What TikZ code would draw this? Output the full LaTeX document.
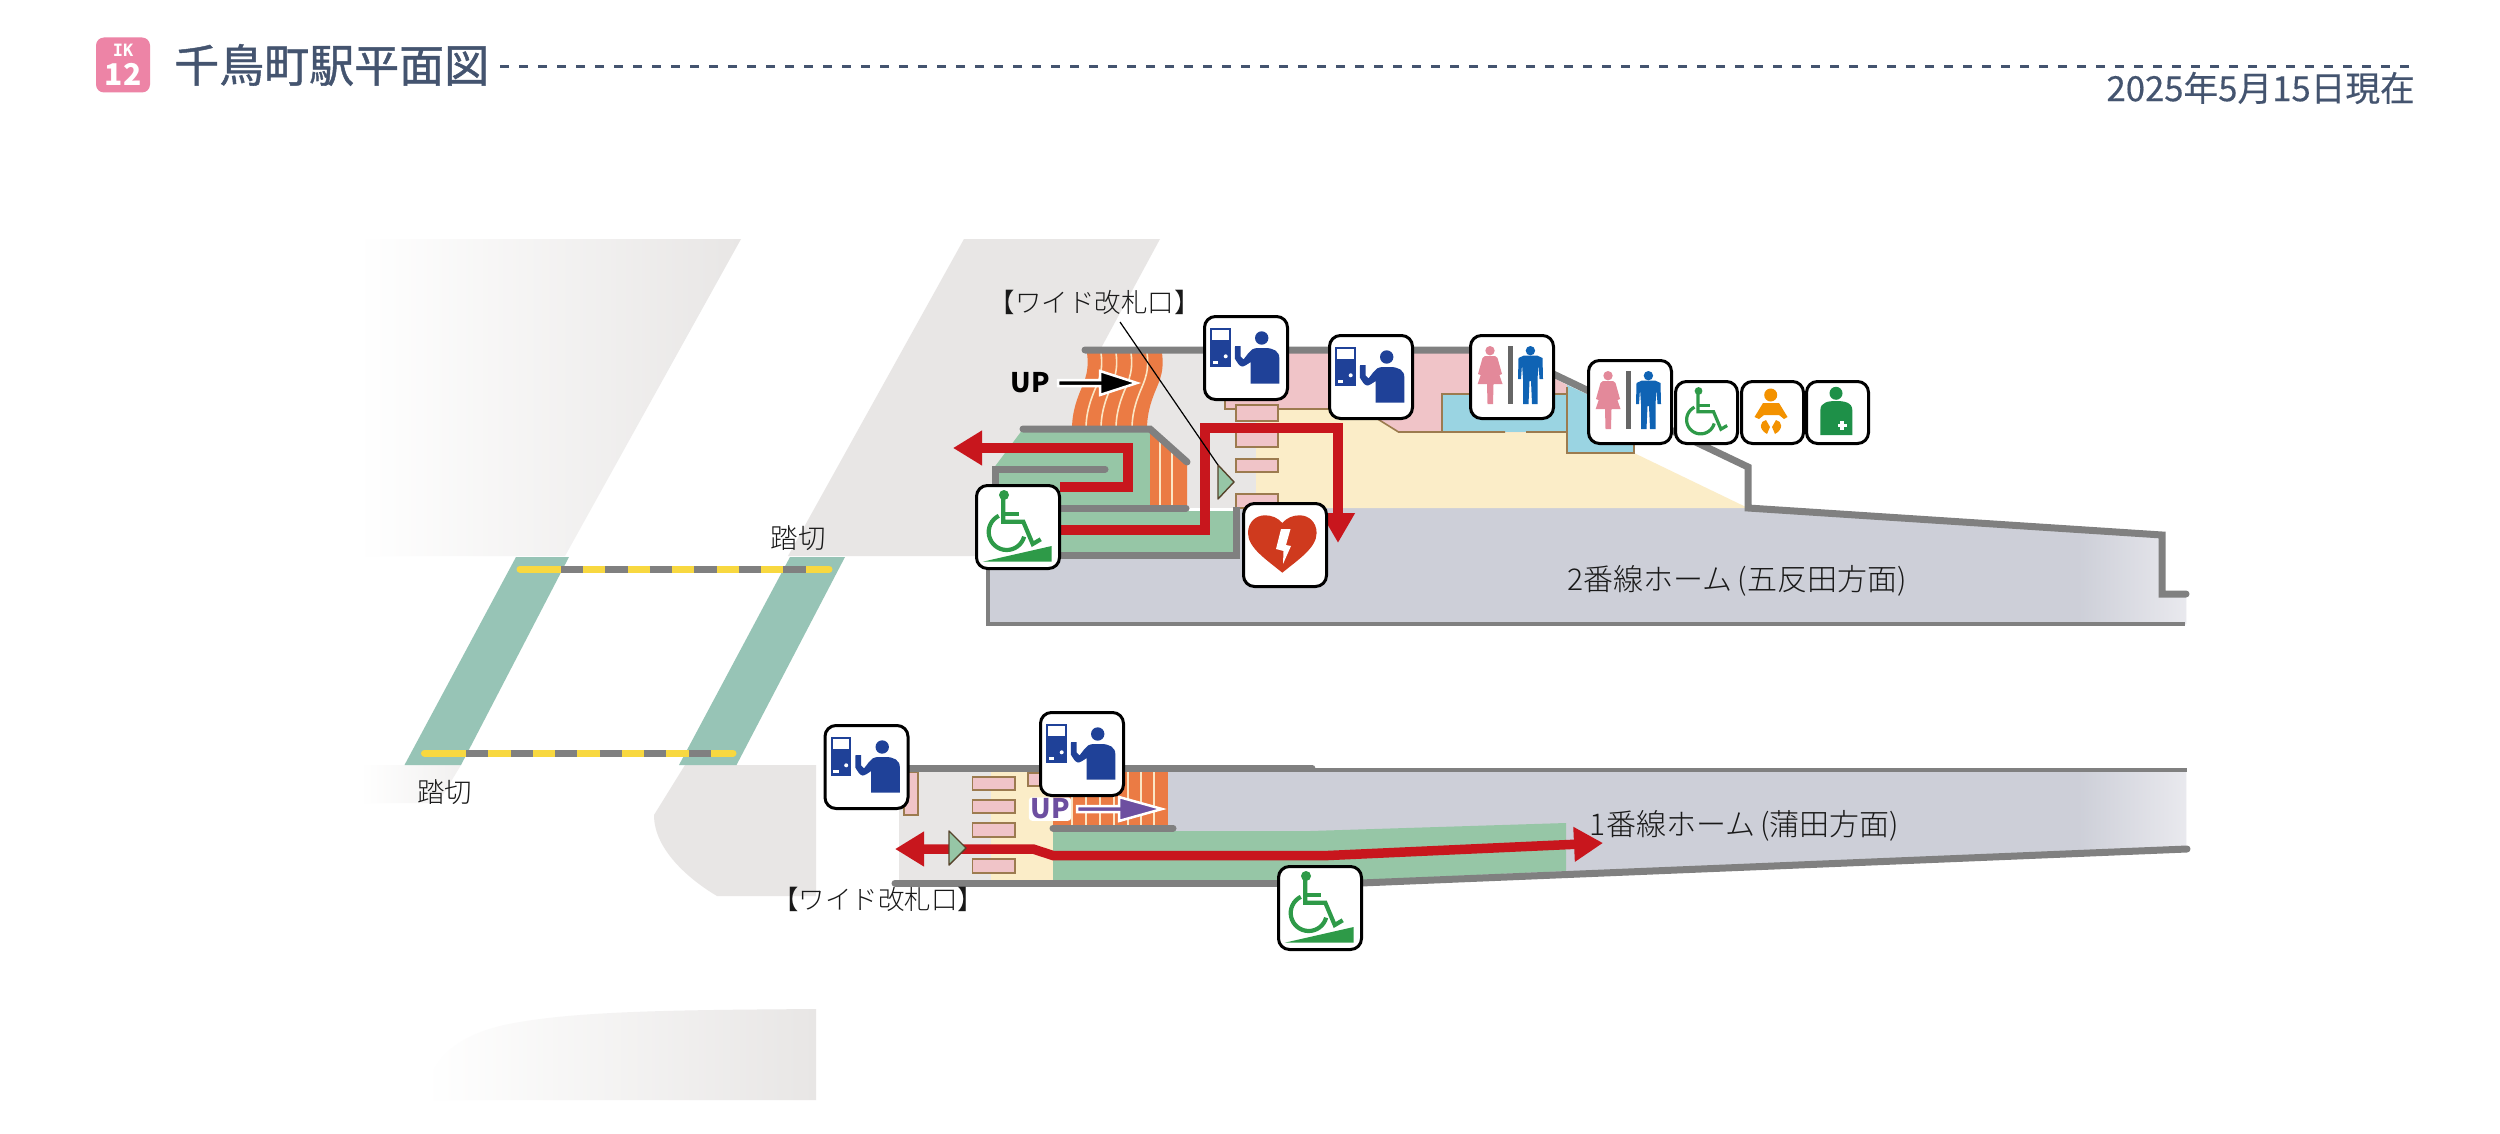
\documentclass[tikz,border=0pt]{standalone}
\usepackage{fontspec}
\setmainfont{Noto Sans CJK JP}
\newfontfamily\lightfont{Noto Sans CJK JP Light}
\newfontfamily\titlefont[FakeBold=1.0]{Noto Sans CJK JP}
\newfontfamily\datefont[FakeBold=0.35]{Noto Sans CJK JP}
\newfontfamily\slabfont{DejaVu Sans Mono}
\usetikzlibrary{arrows.meta}
\newcommand\myfs[1]{\fontsize{#1}{#1}\selectfont}
\definecolor{bggray}{HTML}{E8E6E5}
\definecolor{teal}{HTML}{97C4B6}
\definecolor{wall}{HTML}{808080}
\definecolor{plat}{HTML}{CDCFD8}
\definecolor{platend}{HTML}{E9E9EE}
\definecolor{grn}{HTML}{96C6A6}
\definecolor{crm}{HTML}{FBEDC8}
\definecolor{pnk}{HTML}{F0C4C8}
\definecolor{blu}{HTML}{9AD4E2}
\definecolor{brn}{HTML}{9C7B4F}
\definecolor{orng}{HTML}{EB7B44}
\definecolor{stripe}{HTML}{FBE6C4}
\definecolor{redr}{HTML}{C8161D}
\definecolor{navy}{HTML}{1F4198}
\definecolor{icgreen}{HTML}{2E9A48}
\definecolor{slate}{HTML}{44546F}
\definecolor{ylw}{HTML}{F8D840}
\definecolor{purp}{HTML}{6D4FA0}
\definecolor{badge}{HTML}{ED84A6}
\definecolor{wpink}{HTML}{E3899A}
\definecolor{mblue}{HTML}{0F63B4}
\definecolor{aedred}{HTML}{CF3A1E}
\definecolor{babyor}{HTML}{F39200}
\definecolor{hlthgr}{HTML}{1E9048}
\tikzset{
  wallline/.style={draw=wall,line width=7pt,line join=miter},
  thinwall/.style={draw=wall,line width=3.2pt},
  brownline/.style={draw=brn,line width=1.6pt},
  gate/.style={fill=pnk,draw=brn,line width=1.6pt},
  stairline/.style={draw=stripe,line width=1.6pt},
  route/.style={draw=redr,line width=9.5pt,line join=miter},
  iconbox/.style={draw=black,fill=white,line width=3pt,rounded corners=11pt,anchor=north west,inner sep=0pt,minimum size=#1},
  label/.style={text=black!90,inner sep=0pt},
  gatearrow/.style={fill=grn,draw=black!45!brn,line width=1.4pt,line join=round},
  crossing/.style={line width=7pt},
  wc/.style={draw=icgreen,line width=#1,line cap=butt,line join=miter},
}
% staff icon 83x83
\newcommand\staffic[3]{%
  \node[iconbox=83pt] (#1) at (#2,#3) {};
  \begin{scope}[shift={(#2,#3)}]
    \fill[navy] (7,13) rectangle (27.7,52);
    \fill[white] (9,15) rectangle (25.7,25.3);
    \fill[white] (22.7,41.3) circle (2);
    \fill[white] (9.7,46.3) rectangle (15.3,49.3);
    \fill[navy] (58.7,23) circle (6.7);
    \fill[navy] (47.7,68.7) -- (76.3,68.7) -- (76.3,43) .. controls (76.3,36) and (70,33) .. (62,33) -- (54,33) .. controls (50,33.5) and (47.5,35) .. (45.5,38) -- (40.5,44.5) -- (37.5,41.5) -- (37.5,31) -- (32,31) -- (31.8,43.5) .. controls (34,47) and (36,51) .. (39,51.5) .. controls (41,51.7) and (44,49.5) .. (47.7,47) -- cycle;
  \end{scope}}
% wheelchair figure
\newcommand\wcfig[1]{%
  \fill[icgreen] (29,11) circle (5);
  \draw[wc=#1] (28.3,13) -- (28.3,37.7) -- (48.3,37.7) -- (57.7,60) -- (65.7,55.3);
  \draw[wc=#1] (28.3,30) -- (44,30);
  \draw[wc=#1] plot[smooth,domain=244:15,samples=25] ({31.7+18*cos(\x)},{48+18*sin(\x)});}
\newcommand\rampic[3]{%
  \node[iconbox=83pt] (#1) at (#2,#3) {};
  \begin{scope}[shift={(#2,#3)}]
    \wcfig{4.2pt}
    \fill[icgreen] (7.7,77.7) -- (76.7,62) -- (76.7,77.7) -- cycle;
  \end{scope}}
\newcommand\toiletic[3]{%
  \node[iconbox=83pt] (#1) at (#2,#3) {};
  \begin{scope}[shift={(#2,#3)}]
    \fill[wpink] (21,16.7) circle (4.7);
    \fill[wpink] (16,22) -- (26,22) -- (28.5,24) -- (33,40) -- (30.5,41) -- (27,31) -- (33.5,50) -- (24.5,50) -- (24,70) -- (18.5,70) -- (18,50) -- (8.7,50) -- (15,31) -- (11.5,41) -- (9,40) -- (13.5,24) -- cycle;
    \fill[black!60] (39.4,12) rectangle (43.5,70.3);
    \fill[mblue] (61.4,16.7) circle (4.7);
    \fill[mblue] (55,21.5) -- (68,21.5) -- (73.5,24) -- (74,45) -- (70.5,45) -- (69.5,30) -- (68.5,45) -- (68.5,70) -- (63,70) -- (62,47) -- (60.5,47) -- (59.5,70) -- (54,70) -- (54,45) -- (53,30) -- (52,45) -- (49,45) -- (49.5,24) -- cycle;
  \end{scope}}
\begin{document}
\begin{tikzpicture}[x=1pt,y=-1pt]
\useasboundingbox (0,0) rectangle (2500,1134);
\fill[white] (0,0) rectangle (2500,1134);

% ---- header
\node[fill=badge,rounded corners=8pt,minimum width=54pt,minimum height=55pt,inner sep=0pt] (badgebox) at (123,65) {};
\node[text=white,inner sep=0pt] (ik) at (123,50) {\slabfont\bfseries\myfs{17}IK};
\node[text=white,inner sep=0pt] (num) at (123,74.5) {\bfseries\myfs{30}12};
\node[text=slate,inner sep=0pt,anchor=west] (title) at (174,65) {\titlefont\myfs{45}千鳥町駅平面図};
\coordinate (dashs) at (500,66.5);
\coordinate (dashe) at (2412,66.5);
\draw[slate,line width=2.6pt,dash pattern=on 9pt off 10pt] (dashs) -- (dashe);
\node[text=slate,inner sep=0pt,anchor=east] (date) at (2415,88) {\datefont\myfs{34.7}2025年5月15日現在};

% ---- background shapes
\shade[left color=white,middle color=bggray!55,right color=bggray] (357,239) -- (741,239) -- (565,556) -- (357,556) -- cycle;
\fill[bggray] (964,239) -- (1160,239) -- (1100,350) -- (1100,556) -- (788,556) -- cycle;
\shade[left color=white,right color=bggray!60] (360,765) -- (461,765) -- (438,803) -- (360,803) -- cycle;
\fill[bggray] (685,765) -- (816,765) -- (816,896) -- (717,896) .. controls (690,880) and (654,850) .. (654,815) -- cycle;
\shade[left color=white,middle color=bggray!65,right color=bggray] (425,1100) .. controls (430,1050) and (470,1030) .. (520,1022) .. controls (590,1010) and (700,1010) .. (816,1009) -- (816,1100) -- cycle;

% ---- crossings
\fill[teal] (516,557) -- (569,557) -- (461,765) -- (404.5,765) -- cycle;
\fill[teal] (790,557) -- (845,557) -- (736.5,765) -- (679,765) -- cycle;
\coordinate (xa1) at (520,569); \coordinate (xa2) at (829,569);
\coordinate (xg1) at (560.7,569); \coordinate (xg2) at (805.5,569);
\coordinate (xb1) at (424.5,753); \coordinate (xb2) at (733,753);
\coordinate (xh1) at (466,753); \coordinate (xh2) at (711,753);
\draw[ylw,crossing,line cap=round] (xa1) -- (xa2);
\draw[wall,crossing,dash pattern=on 22.4pt off 22.1pt] (xg1) -- (xg2);
\draw[ylw,crossing,line cap=round] (xb1) -- (xb2);
\draw[wall,crossing,dash pattern=on 22.4pt off 22.1pt] (xh1) -- (xh2);
\node[label] (ct) at (798,538) {\lightfont\myfs{27.5}踏切};
\node[label] (cb) at (444.5,792) {\lightfont\myfs{27.5}踏切};

% ---- upper station (platform 2)
\fill[plat] (988,552) -- (1236,552) -- (1236,508) -- (1748,508) -- (2162,535) -- (2162,594) -- (2186,594) -- (2186,624) -- (988,624) -- cycle;
\shade[left color=plat,right color=platend] (2078,529) -- (2162,535) -- (2162,594) -- (2186,594) -- (2186,624) -- (2078,624) -- cycle;
\fill[bggray] (1090,353) rectangle (1257,508);
\fill[crm] (1256,405) -- (1567,405) -- (1634,453) -- (1748,508) -- (1256,508) -- cycle;
\fill[pnk] (1225,353) -- (1505,353) -- (1567,385) -- (1567,432) -- (1398.5,432) -- (1376,418) -- (1345,409) -- (1225,409) -- cycle;
\fill[blu] (1442,394) rectangle (1567,432);
\fill[blu] (1567,385) -- (1634,416) -- (1634,453) -- (1567,453) -- cycle;
\draw[brownline] (1225,396) -- (1225,409) -- (1345,409);
\draw[brownline] (1376,418) -- (1398.5,432) -- (1505,432);
\draw[brownline] (1526,432) -- (1567,432);
\draw[brownline] (1442,432) -- (1442,394) -- (1567,394);
\draw[brownline] (1567,387) -- (1567,453) -- (1634,453) -- (1634,440);
\draw[gate] (1236,405) rectangle (1278,421);
\draw[gate] (1236,425) rectangle (1278,447);
\draw[gate] (1236,459) rectangle (1278,472);
\draw[gate] (1236,494) rectangle (1278,508);

% stairs
\fill[orng] (1087,353) .. controls (1090,375) and (1082,385) .. (1078,397) .. controls (1074,408) and (1072,418) .. (1072,429) -- (1147,429) .. controls (1147,418) and (1149,408) .. (1153,397) .. controls (1157,385) and (1165,375) .. (1162,353) -- cycle;
\foreach \s in {14,29,44,60}
  \draw[stairline,xshift=\s] (1087,353) .. controls (1090,375) and (1082,385) .. (1078,397) .. controls (1074,408) and (1072,418) .. (1072,429);
\fill[grn] (993,469) -- (1023,429) -- (1150,429) -- (1150,505) -- (1058,505) -- (1058,490) -- (993,490) -- cycle;
\fill[orng] (1150,429) -- (1187,462) -- (1187,505) -- (1150,505) -- cycle;
\draw[stairline] (1160,438) -- (1160,505);
\draw[stairline] (1172,449) -- (1172,505);
\fill[grn] (1000,511) rectangle (1233,552);

% walls upper
\coordinate (w1) at (1085,350); \coordinate (w2) at (1503,350); \coordinate (w3) at (1748,467);
\coordinate (w4) at (1748,508); \coordinate (w5) at (2162,535); \coordinate (w6) at (2162,594); \coordinate (w7) at (2186,594);
\draw[wallline,line cap=round] (w1) -- (w2) -- (w3) -- (w4) -- (w5) -- (w6) -- (w7);
\coordinate (p1) at (988,556); \coordinate (p2) at (988,624); \coordinate (p3) at (2185,624);
\draw[thinwall] (p1) -- (p2) -- (p3);
\coordinate (m1) at (1058,508); \coordinate (m2) at (1186,508);
\draw[wallline,line cap=round] (m1) -- (m2);
\coordinate (l1) at (988,555); \coordinate (l2) at (1236,555); \coordinate (l3) at (1236,507);
\draw[wallline] (l1) -- (l2) -- (l3);
\coordinate (u1) at (1023,429); \coordinate (u2) at (1150,429); \coordinate (u3) at (1187,462);
\draw[wallline,line cap=round] (u1) -- (u2) -- (u3);
\coordinate (i1) at (1105,469); \coordinate (i2) at (995,469); \coordinate (i3) at (995,490);
\draw[wallline,line cap=round] (i1) -- (i2) -- (i3);

% gate triangle and leader
\coordinate (gta) at (1218,465);
\draw[gatearrow] (gta) -- (1234,482) -- (1218,499) -- cycle;

% routes upper
\coordinate (ra) at (1060,530); \coordinate (rb) at (1205,530); \coordinate (rc) at (1205,428); \coordinate (rd) at (1338,428); \coordinate (re) at (1338,543);
\draw[route,-{Triangle[length=30pt,width=32pt]}] (ra) -- (rb) -- (rc) -- (rd) -- (re);
\coordinate (sa) at (1060,487); \coordinate (sb) at (1128,487); \coordinate (sc) at (1128,448); \coordinate (sd) at (953,448);
\draw[route,-{Triangle[length=29pt,width=33pt]}] (sa) -- (sb) -- (sc) -- (sd);

% UP upper
\draw[white,fill=black,line width=2.5pt,line join=miter] (1058,380) -- (1100,380) -- (1100,371) -- (1137,383) -- (1100,395) -- (1100,386) -- (1058,386) -- cycle;
\node[inner sep=0pt,text=black] (upa) at (1030,383) {\bfseries\myfs{27}UP};

% ---- lower station (platform 1)
\fill[plat] (1167,771) -- (2186,771) -- (2186,849) -- (1361,883) -- (1167,883) -- cycle;
\shade[left color=plat,right color=platend] (2078,771) -- (2186,771) -- (2186,849) -- (2078,853) -- cycle;
\fill[bggray] (899,772) rectangle (992,880);
\fill[crm] (991,772) rectangle (1053,880);
\fill[orng] (1053,772) rectangle (1168,825);
\foreach \x in {1072,1086,1100,1114,1128,1141,1154}
  \draw[stairline] (\x,772) -- (\x,825);
\fill[grn] (1053,831) -- (1310,831) -- (1566,823) -- (1566,871) -- (1361,880) -- (1053,880) -- cycle;
\draw[gate] (904,772) rectangle (918,815);
\draw[gate] (972.5,777) rectangle (1015,790);
\draw[gate] (972.5,800) rectangle (1015,813);
\draw[gate] (972.5,823) rectangle (1015,837);
\draw[gate] (972.5,859) rectangle (1015,873);
\draw[gate] (1028,773) rectangle (1045,786);
% walls lower
\coordinate (t1) at (906,768); \coordinate (t2) at (1312,768);
\draw[wallline,line cap=round] (t1) -- (t2);
\coordinate (t3) at (1312,770); \coordinate (t4) at (2187,770);
\draw[draw=wall,line width=4pt] (t3) -- (t4);
\coordinate (b1) at (895,883); \coordinate (b2) at (1361,883); \coordinate (b3) at (2187,849);
\draw[wallline,line cap=round] (b1) -- (b2);
\draw[draw=wall,line width=7pt,line cap=round] (b2) -- (b3);
\coordinate (c1) at (1053,828); \coordinate (c2) at (1173,828);
\draw[wallline,line cap=round] (c1) -- (c2);
% route lower
\coordinate (qa) at (895,849); \coordinate (qb) at (1033,849); \coordinate (qc) at (1053,855.5); \coordinate (qd) at (1328,855.5); \coordinate (qe) at (1603,843);
\draw[route,{Triangle[length=29pt,width=33pt]}-{Triangle[length=29pt,width=33pt]}] (qa) -- (qb) -- (qc) -- (qd) -- (qe);
\draw[gatearrow] (949,831) -- (966,848) -- (949,865) -- cycle;

% UP lower
\node[inner sep=1.5pt,fill=white,rounded corners=3pt,text=purp] (upb) at (1050,809) {\bfseries\myfs{27}UP};
\draw[white,fill=purp,line width=2.5pt,line join=miter] (1077,806) -- (1119,806) -- (1119,797) -- (1162,809) -- (1119,821) -- (1119,812) -- (1077,812) -- cycle;

% ---- icons
\staffic{sa1}{1203}{315}
\staffic{sa2}{1328}{334}
\staffic{sb1}{823.5}{724}
\staffic{sb2}{1039}{711}
\rampic{ra1}{975}{484}
\rampic{ra2}{1277}{865}
\toiletic{to1}{1469}{334}
\toiletic{to2}{1587}{359}

% AED
\node[iconbox=83pt] (aed) at (1242,502) {};
\begin{scope}[shift={(1242,502)}]
  \fill[aedred] (40.3,70.7) .. controls (25,58) and (6,46) .. (6,31) .. controls (6,20) and (14,13.3) .. (23,13.3) .. controls (30,13.3) and (36,16) .. (40.3,21) .. controls (44.6,16) and (50.6,13.3) .. (57.6,13.3) .. controls (66.6,13.3) and (74.6,20) .. (74.6,31) .. controls (74.6,46) and (55.6,58) .. (40.3,70.7) -- cycle;
  \fill[white] (39,27) -- (48.5,27) -- (44,43) -- (49,44) -- (41,62) -- (41.5,49) -- (34,47) -- cycle;
\end{scope}
% plain wheelchair
\node[iconbox=62pt] (wc) at (1674,380) {};
\begin{scope}[shift={(1675.9,382.4)},scale=.78]
  \wcfig{3.2pt}
\end{scope}
% baby
\node[iconbox=62pt] (baby) at (1740,380) {};
\begin{scope}[shift={(1740,380)}]
  \fill[babyor] (30.7,15) circle (6.5);
  \fill[babyor] (23,23) -- (39,23) -- (47.5,37) -- (44,39) -- (39,35) -- (24,35) -- (19,39) -- (14.5,37) -- cycle;
  \fill[babyor] (26,40) .. controls (20,41) and (18,49) .. (27,54) .. controls (28,51) and (29,50) .. (30,47) -- cycle;
  \fill[babyor] (36,40) .. controls (42,41) and (44,49) .. (35,54) .. controls (34,51) and (33,50) .. (32,47) -- cycle;
\end{scope}
% health
\node[iconbox=62pt] (hlth) at (1805,380) {};
\begin{scope}[shift={(1805,380)}]
  \fill[hlthgr] (31,13.3) circle (6.5);
  \fill[hlthgr] (15.4,55) -- (15.4,30) .. controls (15.4,22) and (24,21) .. (31,21) .. controls (38,21) and (47.3,22) .. (47.3,30) -- (47.3,55) -- cycle;
  \fill[white] (35.2,41) rectangle (38.8,50);
  \fill[white] (32.5,43.8) rectangle (41.5,47.2);
\end{scope}

% ---- labels
\node[label] (wga) at (1094.5,302) {\lightfont\myfs{26.5}【ワイド改札口】};
\coordinate (ldr) at (1120,322);
\draw[black,line width=1.2pt] (ldr) -- (gta);
\node[label] (wgb) at (878,899) {\lightfont\myfs{26.5}【ワイド改札口】};
\node[label] (pl2) at (1739.5,581) {\lightfont\myfs{30}2番線ホーム\,(五反田方面)\,};
\node[label] (pl1) at (1747,826) {\lightfont\myfs{30}1番線ホーム\,(蒲田方面)\,};
\end{tikzpicture}
\end{document}
